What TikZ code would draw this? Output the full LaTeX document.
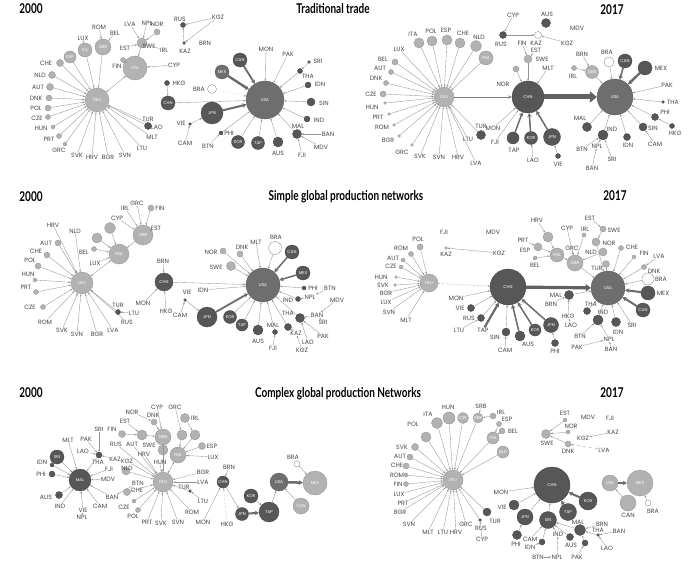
\documentclass[tikz,border=0pt]{standalone}
\usepackage{fontspec}
\usetikzlibrary{arrows.meta}
\newfontfamily\labfam{Poppins}
\newfontfamily\ttlfam[FakeStretch=0.74]{Lato}
\newcommand{\labfont}{\labfam\fontsize{6.2}{7}\selectfont}
\newcommand{\hubfont}{\labfam\fontsize{4.2}{5}\selectfont}
\newcommand{\ttlfont}{\ttlfam\bfseries\fontsize{13.5}{15}\selectfont}
\tikzset{
 lab/.style={font=\labfont, text=black!72, inner sep=0.3pt},
 hubbase/.style={circle, inner sep=0pt, font=\hubfont, text=white, line width=0.3pt},
 hl/.style={hubbase, fill=black!30, draw=black!44, minimum size=#1pt},
 hm/.style={hubbase, fill=black!57, draw=black!66, minimum size=#1pt},
 hd/.style={hubbase, fill=black!66, draw=black!76, minimum size=#1pt},
 hw/.style={hubbase, fill=white, draw=black!50, minimum size=#1pt},
 sl/.style={hl=#1},
 sd/.style={hd=#1},
 ed/.style={draw=black!42, line width=0.35pt, -{Stealth[length=2.4pt,width=1.8pt]}},
 tk/.style={draw=black!58, line width=#1pt, -{Stealth[length=4pt,width=4.5pt]}},
 ttl/.style={font=\ttlfont, text=black, inner sep=0pt},
}
\begin{document}
\begin{tikzpicture}[x=1pt,y=-1pt]
\path[use as bounding box, fill=white] (0,0) rectangle (693,564);
% titles
\node[ttl] (t1) at (31,9) {2000};
\node[ttl] (t2) at (333,9) {Traditional trade};
\node[ttl] (t3) at (612,10) {2017};
\node[ttl] (t4) at (31,197) {2000};
\node[ttl] (t5) at (346,197) {Simple global production networks};
\node[ttl] (t6) at (615,196) {2017};
\node[ttl] (t7) at (31,393) {2000};
\node[ttl] (t8) at (338,394) {Complex global production Networks};
\node[ttl] (t9) at (612,393) {2017};

%%%%%%%%%%%%%%%% Panel A: traditional 2000
\node[hl=24] (aDEU) at (97,100) {DEU};
\node[hl=24] (aFRA) at (135,68) {FRA};
\node[hl=16] (aGBR) at (103,47) {GBR};
\node[hl=14] (aITA) at (85,50) {ITA};
\node[hl=12] (aESP) at (70,57) {ESP};
\node[hl=10] (aSWE) at (142,43) {};
\node[lab] (laSWE) at (149,46) {SWE};
\foreach \n/\x/\y/\sz/\lx/\ly in {CHE/60/63/7/46/63, NLD/52/75/7/40/75, AUT/50/87/7/38/87, DNK/49/98/6/36/98, POL/48/108/6/36/108, CZE/48/117/5/37/118, HUN/53/127/4/41/128, PRT/59/136/5/49/139, GRC/65/144/4/59/150}
 {\node[sl=\sz] (a\n) at (\x,\y) {}; \node[lab] (la\n) at (\lx,\ly) {\n}; \draw[ed] (a\n) -- (aDEU);}
\foreach \n/\x/\y in {SVK/77/155, HRV/92/157, BGR/108/157, SVN/125/155, LTU/142/148, MLT/152/137, LAO/157/127}
 {\node[lab] (a\n) at (\x,\y) {\n}; \draw[ed] (a\n) -- (aDEU);}
\node[sd=7] (aTUR) at (148,126) {};
\node[lab] (laTUR) at (148,119) {TUR};
\draw[ed] (aTUR) -- (aDEU);
\node[lab] (aROM) at (99,27) {ROM};
\node[lab] (aBEL) at (115,33) {BEL};
\node[lab] (aLUX) at (83,38) {LUX};
\node[lab] (aLVA) at (130,24) {LVA};
\node[lab] (aNPL) at (147,23) {NPL};
\node[sl=6] (aNOR) at (157,32) {};
\node[lab] (laNOR) at (157,24) {NOR};
\node[lab] (aEST) at (125,48) {EST};
\node[sl=5] (aFIN) at (123,60) {};
\node[lab] (laFIN) at (117,66) {FIN};
\node[lab] (aIRL) at (164,50) {IRL};
\node[lab] (aCYP) at (174,65) {CYP};
\draw[ed] (aROM) -- (aGBR);
\draw[ed] (aBEL) -- (aGBR);
\draw[ed] (aLUX) -- (aITA);
\foreach \n in {LVA,NPL,NOR,EST,IRL} {\draw[ed] (a\n) -- (aSWE);}
\draw[ed] (aSWE) -- (aFRA);
\draw[ed] (aFIN) -- (aFRA);
\draw[ed] (aCYP) -- (aFRA);
\draw[ed, {Stealth[length=2.4pt,width=1.8pt]}-{Stealth[length=2.4pt,width=1.8pt]}] (aFRA) -- (aDEU);
\foreach \n in {GBR,ITA,ESP} {\draw[ed] (a\n) -- (aDEU);}
% Asia / America A
\node[sd=5] (aRUS) at (183,25) {};
\node[lab] (laRUS) at (180,19) {RUS};
\node[lab] (aKGZ) at (218,17) {KGZ};
\node[sd=3] (aKAZ) at (184,43) {};
\node[lab] (laKAZ) at (185,51) {KAZ};
\node[lab] (aBRN) at (205,43) {BRN};
\draw[ed] (aKGZ) -- (aRUS);
\draw[ed] (aKGZ) -- (aKAZ);
\draw[ed] (aKAZ) -- (aRUS);
\node[sd=5] (aHKG) at (167,83) {};
\node[lab] (laHKG) at (179,83) {HKG};
\node[hd=14] (aCHN) at (168,103) {CHN};
\node[hm=38] (aUSA) at (265,100) {USA};
\node[hd=14] (aCAN) at (240,60) {CAN};
\node[hm=14] (aMEX) at (222,72) {MEX};
\node[hw=9] (aBRA) at (212,89) {};
\node[lab] (laBRA) at (199,89) {BRA};
\draw[ed] (aHKG) -- (aCHN);
\draw[ed] (aCHN) -- (aUSA);
\draw[tk=2.4] (aMEX) -- (aUSA);
\draw[tk=1.8] (aCAN) -- (aUSA);
\draw[ed, dotted] (aBRA) -- (aUSA);
\node[lab] (aMON) at (266,49) {MON};
\node[lab] (aPAK) at (288,54) {PAK};
\node[sd=3] (aSRI) at (309,62) {};
\node[lab] (laSRI) at (318,61) {SRI};
\node[sd=5] (aTHA) at (300,71) {};
\node[lab] (laTHA) at (308,76) {THA};
\node[sd=6] (aIDN) at (308,85) {};
\node[lab] (laIDN) at (320,84) {IDN};
\node[sd=8] (aSIN) at (311,102) {};
\node[lab] (laSIN) at (324,103) {SIN};
\node[sd=6] (aIND) at (307,119) {};
\node[lab] (laIND) at (319,120) {IND};
\node[sd=9] (aMAL) at (297,134) {};
\node[lab] (laMAL) at (298,126) {MAL};
\node[lab] (aBAN) at (328,134) {BAN};
\node[lab] (aMDV) at (321,147) {MDV};
\node[lab] (aFJI) at (302,155) {FJI};
\node[hd=10] (aAUS) at (278,142) {};
\node[lab] (laAUS) at (278,153) {AUS};
\node[hd=13] (aTAP) at (258,143) {TAP};
\node[hd=13] (aKOR) at (238,142) {KOR};
\node[sd=4] (aPHI) at (221,133) {};
\node[lab] (laPHI) at (229,133) {PHI};
\node[lab] (aBTN) at (208,146) {BTN};
\node[hd=22] (aJPN) at (212,113) {JPN};
\node[sd=3] (aVIE) at (190,124) {};
\node[lab] (laVIE) at (181,123) {VIE};
\node[lab] (aCAM) at (185,143) {CAM};
\draw[tk=2] (aJPN) -- (aUSA);
\foreach \n in {MON,PAK,THA,IDN,SIN,IND,MAL,AUS,TAP,KOR,PHI} {\draw[ed] (a\n) -- (aUSA);}
\draw[ed] (aSRI) -- (aTHA);
\foreach \n in {BAN,MDV,FJI} {\draw[ed] (a\n) -- (aMAL);}
\draw[ed] (aBTN) -- (aPHI);
\draw[ed] (aVIE) -- (aJPN);
\draw[ed] (aCAM) -- (aVIE);

%%%%%%%%%%%%%%%% Panel B: traditional 2017
\node[hl=20] (bDEU) at (444,97) {DEU};
\foreach \n/\x/\y/\sz/\lx/\ly in {ITA/419/43/10/413/34, POL/432/41/10/431/31, ESP/447/40/10/446/30, CHE/460/43/10/463/33, NLD/476/46/11/479/37, BEL/395/62/6/383/59, AUT/391/72/5/380/68, DNK/386/83/5/376/78, CZE/383/94/6/371/94, HUN/385/103/3/372/107, PRT/389/114/3/378/117, ROM/394/125/3/382/127, BGR/399/136/3/388/140, GRC/412/145/3/402/152}
 {\node[sl=\sz] (b\n) at (\x,\y) {}; \node[lab] (lb\n) at (\lx,\ly) {\n}; \draw[ed] (b\n) -- (bDEU);}
\foreach \n/\x/\y in {SVK/420/156, SVN/439/157, HRV/458/157, LTU/468/139, LVA/476/163}
 {\node[lab] (b\n) at (\x,\y) {\n}; \draw[ed] (b\n) -- (bDEU);}
\node[lab] (bLUX) at (399,49) {LUX};
\draw[ed] (bLUX) -- (bDEU);
\node[hl=14] (bFRA) at (486,58) {FRA};
\draw[ed] (bFRA) -- (bDEU);
\node[sd=9] (bTUR) at (481,135) {};
\node[lab] (lbTUR) at (481,126) {TUR};
\draw[ed] (bTUR) -- (bDEU);
\node[lab] (bCYP) at (513,15) {CYP};
\node[sd=7] (bRUS) at (503,35) {};
\node[lab] (lbRUS) at (501,44) {RUS};
\node[lab] (bFIN) at (522,43) {FIN};
\node[hw=7] (bKAZ) at (538,35) {};
\node[lab] (lbKAZ) at (536,43) {KAZ};
\node[sd=9] (bAUS) at (546,23) {};
\node[lab] (lbAUS) at (547,14) {AUS};
\node[lab] (bMDV) at (577,28) {MDV};
\node[lab] (bKGZ) at (567,43) {KGZ};
\node[lab] (bEST) at (536,50) {EST};
\node[sl=8] (bSWE) at (528,59) {};
\node[lab] (lbSWE) at (542,59) {SWE};
\node[lab] (bMLT) at (548,68) {MLT};
\node[sl=6] (bNOR) at (516,69) {};
\node[lab] (lbNOR) at (503,84) {NOR};
\node[hd=32] (bCHN) at (528,97) {CHN};
\node[hm=36] (bUSA) at (615,97) {USA};
\draw[ed] (bCYP) -- (bRUS);
\draw[ed] (bRUS) -- (bKAZ);
\draw[ed] (bKGZ) -- (bKAZ);
\draw[ed] (bFIN) -- (bSWE);
\draw[ed] (bEST) -- (bSWE);
\draw[ed] (bSWE) -- (bCHN);
\draw[ed] (bNOR) -- (bCHN);
\draw[ed] (bMLT) -- (bCHN);
\draw[draw=black!50, line width=0.8pt, -{Stealth[length=4pt,width=3.5pt]}] (bDEU) -- (bCHN);
\draw[draw=black!62, line width=5pt, -{Triangle[length=7pt,width=11pt]}] (bCHN) -- (bUSA);
\node[hl=13] (bGBR) at (592,72) {GBR};
\node[sl=5] (bIRL) at (574,68) {};
\node[lab] (lbIRL) at (573,76) {IRL};
\node[lab] (bBRN) at (582,54) {BRN};
\draw[ed] (bIRL) -- (bGBR);
\draw[ed] (bBRN) -- (bGBR);
\draw[ed] (bGBR) -- (bUSA);
\node[hw=10] (bBRA) at (609,62) {};
\node[lab] (lbBRA) at (607,52) {BRA};
\node[hd=14] (bCAN) at (625,61) {CAN};
\node[hd=14] (bMEX) at (645,68) {};
\node[lab] (lbMEX) at (661,68) {MEX};
\draw[ed] (bBRA) -- (bUSA);
\draw[tk=1.6] (bCAN) -- (bUSA);
\draw[tk=2.4] (bMEX) -- (bUSA);
\node[lab] (bPAK) at (667,85) {PAK};
\node[sd=3] (bTHA) at (663,102) {};
\node[lab] (lbTHA) at (673,102) {THA};
\node[sd=7] (bPHI) at (655,117) {};
\node[lab] (lbPHI) at (665,112) {PHI};
\node[sd=5] (bHKG) at (672,126) {};
\node[lab] (lbHKG) at (675,133) {HKG};
\node[sd=8] (bSIN) at (643,127) {};
\node[lab] (lbSIN) at (653,128) {SIN};
\node[lab] (bCAM) at (655,144) {CAM};
\node[sd=7] (bIDN) at (627,137) {};
\node[lab] (lbIDN) at (628,145) {IDN};
\node[sd=10] (bIND) at (603,135) {};
\node[lab] (lbIND) at (612,129) {IND};
\node[sd=9] (bMAL) at (587,127) {};
\node[lab] (lbMAL) at (580,118) {MAL};
\node[lab] (bBTN) at (582,149) {BTN};
\node[lab] (bNPL) at (597,146) {NPL};
\node[lab] (bSRI) at (612,159) {SRI};
\node[lab] (bBAN) at (592,168) {BAN};
\foreach \n in {PAK,THA,PHI,SIN,IDN,IND,MAL} {\draw[ed] (b\n) -- (bUSA);}
\draw[ed] (bHKG) -- (bPHI);
\draw[ed] (bCAM) -- (bSIN);
\foreach \n in {BTN,NPL,SRI} {\draw[ed] (b\n) -- (bIND);}
\draw[ed] (bBAN) -- (bNPL);
\node[lab] (bMON) at (493,128) {MON};
\node[lab] (bFJI) at (495,142) {FJI};
\node[hd=12] (bTAP) at (513,138) {};
\node[lab] (lbTAP) at (514,150) {TAP};
\node[hd=13] (bKOR) at (531,138) {KOR};
\node[hd=17] (bJPN) at (552,137) {JPN};
\node[lab] (bLAO) at (533,160) {LAO};
\node[sd=5] (bVIE) at (558,156) {};
\node[lab] (lbVIE) at (558,164) {VIE};
\draw[ed] (bMON) -- (bCHN);
\draw[ed] (bFJI) -- (bCHN);
\foreach \n in {TAP,KOR,JPN} {\draw[tk=1.5] (b\n) -- (bCHN);}
\draw[ed] (bLAO) -- (bKOR);
\draw[ed] (bVIE) -- (bJPN);

%%%%%%%%%%%%%%%% Panel C: simple 2000
\node[hl=22] (cDEU) at (82,283) {DEU};
\node[hl=20] (cFRA) at (119,254) {FRA};
\node[hl=20] (cGBR) at (143,235) {GBR};
\node[hl=11] (cITA) at (110,228) {};
\node[hl=10] (cESP) at (97,238) {};
\foreach \n/\x/\y/\sz/\lx/\ly in {AUT/58/243/6/46/243, CHE/47/255/6/36/251, POL/38/266/6/30/260, HUN/35/280/4/28/274, PRT/36/292/5/26/287, CZE/43/307/5/30/307}
 {\node[sl=\sz] (c\n) at (\x,\y) {}; \node[lab] (lc\n) at (\lx,\ly) {\n}; \draw[ed] (c\n) -- (cDEU);}
\foreach \n/\x/\y in {HRV/53/225, NLD/75/231, ROM/45/322, SVK/62/330, SVN/77/334, BGR/97/334, LVA/113/330, RUS/127/322}
 {\node[lab] (c\n) at (\x,\y) {\n}; \draw[ed] (c\n) -- (cDEU);}
\node[sd=5] (cTUR) at (118,312) {};
\node[lab] (lcTUR) at (118,305) {TUR};
\draw[ed] (cTUR) -- (cDEU);
\node[lab] (cLTU) at (134,313) {LTU};
\draw[ed] (cLTU) -- (cTUR);
\node[sl=5] (cBEL) at (94,249) {};
\node[lab] (lcBEL) at (84,252) {BEL};
\node[lab] (cLUX) at (95,263) {LUX};
\draw[ed] (cBEL) -- (cFRA);
\draw[ed] (cLUX) -- (cFRA);
\draw[ed] (cITA) -- (cFRA);
\draw[ed] (cESP) -- (cFRA);
\draw[ed, {Stealth[length=2.4pt,width=1.8pt]}-{Stealth[length=2.4pt,width=1.8pt]}] (cFRA) -- (cDEU);
\draw[ed] (cGBR) -- (cFRA);
\node[lab] (cIRL) at (125,208) {IRL};
\node[lab] (cGRC) at (137,203) {GRC};
\node[lab] (cCYP) at (117,218) {CYP};
\node[lab] (cEST) at (156,228) {EST};
\node[sl=6] (cFIN) at (151,208) {};
\node[lab] (lcFIN) at (160,208) {FIN};
\foreach \n in {IRL,GRC,CYP,EST,FIN} {\draw[ed] (c\n) -- (cGBR);}
\node[hd=18] (cCHN) at (164,282) {CHN};
\node[lab] (cBRN) at (163,261) {BRN};
\node[lab] (cMON) at (143,303) {MON};
\node[lab] (cHKG) at (166,311) {HKG};
\draw[ed] (cBRN) -- (cCHN);
\draw[ed] (cMON) -- (cCHN);
\draw[ed] (cHKG) -- (cCHN);
\node[hm=34] (cUSA) at (263,285) {USA};
\draw[ed] (cCHN) -- (cUSA);
\node[sl=6] (cNOR) at (223,251) {};
\node[lab] (lcNOR) at (211,252) {NOR};
\node[sl=6] (cDNK) at (240,254) {};
\node[lab] (lcDNK) at (242,247) {DNK};
\node[sl=9] (cSWE) at (231,266) {};
\node[lab] (lcSWE) at (216,267) {SWE};
\node[lab] (cMLT) at (256,242) {MLT};
\node[hw=13] (cBRA) at (275,248) {};
\node[lab] (lcBRA) at (276,237) {BRA};
\node[hd=14] (cCAN) at (292,252) {CAN};
\node[hd=14] (cMEX) at (303,273) {MEX};
\foreach \n in {NOR,DNK,SWE,MLT,BRA} {\draw[ed] (c\n) -- (cUSA);}
\draw[tk=1.5] (cCAN) -- (cUSA);
\draw[tk=1.5] (cMEX) -- (cUSA);
\node[sd=4] (cPHI) at (304,288) {};
\node[lab] (lcPHI) at (313,288) {PHI};
\node[lab] (cBTN) at (330,288) {BTN};
\node[lab] (cNPL) at (310,297) {NPL};
\node[lab] (cMDV) at (337,300) {MDV};
\node[sd=5] (cIND) at (298,299) {};
\node[lab] (lcIND) at (288,300) {IND};
\node[lab] (cBAN) at (317,315) {BAN};
\node[lab] (cSRI) at (323,322) {SRI};
\node[lab] (cPAK) at (323,336) {PAK};
\node[lab] (cLAO) at (308,342) {LAO};
\node[lab] (cKAZ) at (296,333) {KAZ};
\node[lab] (cKGZ) at (302,350) {KGZ};
\node[sd=9] (cTHA) at (300,318) {};
\node[lab] (lcTHA) at (288,313) {THA};
\node[sd=7] (cSIN) at (288,327) {};
\node[sd=5] (cMAL) at (275,332) {};
\node[lab] (lcMAL) at (273,325) {MAL};
\node[lab] (cFJI) at (273,348) {FJI};
\node[hd=10] (cAUS) at (258,330) {};
\node[lab] (lcAUS) at (258,341) {AUS};
\node[hd=12] (cTAP) at (242,325) {TAP};
\node[hd=13] (cKOR) at (230,317) {KOR};
\node[hd=20] (cJPN) at (207,317) {JPN};
\node[lab] (cIDN) at (203,290) {IDN};
\node[sd=3] (cVIE) at (185,300) {};
\node[lab] (lcVIE) at (187,292) {VIE};
\node[lab] (cCAM) at (180,315) {CAM};
\foreach \n in {PHI,IND,THA,SIN,MAL,AUS,TAP,KOR,IDN} {\draw[ed] (c\n) -- (cUSA);}
\draw[tk=1.8] (cJPN) -- (cUSA);
\draw[ed] (cBTN) -- (cNPL);
\draw[ed] (cNPL) -- (cIND);
\draw[ed] (cMDV) -- (cBAN);
\draw[ed] (cBAN) -- (cTHA);
\draw[ed] (cSRI) -- (cBAN);
\draw[ed] (cPAK) -- (cTHA);
\draw[ed] (cLAO) -- (cTHA);
\draw[ed] (cKAZ) -- (cSIN);
\draw[ed] (cKGZ) -- (cKAZ);
\draw[ed] (cFJI) -- (cMAL);
\draw[ed] (cVIE) -- (cJPN);
\draw[ed] (cCAM) -- (cVIE);

%%%%%%%%%%%%%%%% Panel D: simple 2017
\node[lab] (dFJI) at (444,232) {FJI};
\node[lab] (dMDV) at (493,232) {MDV};
\node[sl=3] (dKAZ) at (446,248) {};
\node[lab] (ldKAZ) at (446,254) {KAZ};
\node[lab] (dKGZ) at (499,253) {KGZ};
\draw[ed] (dKGZ) -- (dKAZ);
\node[hl=18] (dDEU) at (429,283) {DEU};
\foreach \n/\x/\y/\sz/\lx/\ly in {POL/420/247/6/418/239, ROM/411/254/5/401/248, AUT/403/260/4/393/258, CZE/401/267/4/391/266, HUN/396/277/3/381/277, SVK/395/285/3/383/285}
 {\node[sl=\sz] (d\n) at (\x,\y) {}; \node[lab] (ld\n) at (\lx,\ly) {\n}; \draw[ed] (d\n) -- (dDEU);}
\foreach \n/\x/\y in {BGR/386/293, LUX/386/302, SVN/389/312, MLT/406/320}
 {\node[lab] (d\n) at (\x,\y) {\n}; \draw[ed] (d\n) -- (dDEU);}
\node[hd=36] (dCHN) at (508,287) {CHN};
\draw[ed, densely dotted, line width=0.6pt] (dDEU) -- (dCHN);
\node[lab] (dMON) at (456,298) {MON};
\node[sd=7] (dVIE) at (471,308) {};
\node[lab] (ldVIE) at (460,308) {VIE};
\node[sd=7] (dRUS) at (481,318) {};
\node[lab] (ldRUS) at (469,318) {RUS};
\node[lab] (dLTU) at (459,330) {LTU};
\node[lab] (dTAP) at (483,330) {TAP};
\node[sd=8] (dSIN) at (506,332) {};
\node[lab] (ldSIN) at (495,337) {SIN};
\node[lab] (dCAM) at (505,350) {CAM};
\node[hd=10] (dAUS) at (520,336) {};
\node[lab] (ldAUS) at (528,344) {AUS};
\node[hd=12] (dKOR) at (535,330) {KOR};
\node[hd=15] (dJPN) at (551,325) {JPN};
\node[sd=7] (dPHI) at (555,343) {};
\node[lab] (ldPHI) at (555,351) {PHI};
\foreach \n in {MON,VIE,RUS,SIN} {\draw[ed] (d\n) -- (dCHN);}
\draw[ed] (dLTU) -- (dRUS);
\draw[tk=2.2] (dTAP) -- (dCHN);
\draw[ed] (dCAM) -- (dSIN);
\draw[tk=1.5] (dAUS) -- (dCHN);
\draw[tk=1.5] (dKOR) -- (dCHN);
\draw[tk=1.5] (dJPN) -- (dCHN);
\draw[ed] (dPHI) -- (dJPN);
\node[hm=34] (dUSA) at (608,288) {USA};
\draw[draw=black!62, line width=3.2pt, -{Triangle[length=5pt,width=7pt]}] (dCHN) -- (dUSA);
\node[sd=9] (dMAL) at (569,295) {};
\node[lab] (ldMAL) at (556,295) {MAL};
\node[lab] (dBRN) at (551,304) {BRN};
\node[lab] (dHKG) at (568,316) {HKG};
\node[lab] (dLAO) at (571,325) {LAO};
\node[sd=7] (dTHA) at (587,311) {};
\node[lab] (ldTHA) at (591,304) {THA};
\node[sd=10] (dIND) at (598,320) {};
\node[lab] (ldIND) at (603,312) {IND};
\node[lab] (dBTN) at (580,336) {BTN};
\node[lab] (dNPL) at (609,339) {NPL};
\node[lab] (dPAK) at (577,347) {PAK};
\node[lab] (dBAN) at (611,349) {BAN};
\node[sd=9] (dIDN) at (616,322) {};
\node[lab] (ldIDN) at (618,332) {IDN};
\node[lab] (dSRI) at (632,325) {SRI};
\node[hd=14] (dCAN) at (643,310) {CAN};
\node[hd=14] (dMEX) at (648,293) {};
\node[lab] (ldMEX) at (663,293) {MEX};
\node[hw=12] (dBRA) at (648,279) {};
\node[lab] (ldBRA) at (661,279) {BRA};
\node[sl=5] (dDNK) at (644,267) {};
\node[lab] (ldDNK) at (654,271) {DNK};
\node[lab] (dLVA) at (659,256) {LVA};
\node[sl=4] (dFIN) at (634,257) {};
\node[lab] (ldFIN) at (644,253) {FIN};
\node[sl=5] (dCHE) at (621,248) {};
\node[lab] (ldCHE) at (632,247) {CHE};
\node[sl=8] (dNOR) at (596,242) {};
\node[lab] (ldNOR) at (609,243) {NOR};
\node[sl=6] (dSWE) at (603,229) {};
\node[lab] (ldSWE) at (614,230) {SWE};
\node[lab] (dEST) at (590,218) {EST};
\foreach \n in {MAL,THA,IND,IDN,SRI,BRA,DNK,FIN,CHE,NOR} {\draw[ed] (d\n) -- (dUSA);}
\draw[tk=2] (dCAN) -- (dUSA);
\draw[tk=2] (dMEX) -- (dUSA);
\draw[ed] (dBRN) -- (dMAL);
\draw[ed] (dHKG) -- (dMAL);
\draw[ed] (dLAO) -- (dHKG);
\draw[ed] (dBTN) -- (dIND);
\draw[ed] (dNPL) -- (dIND);
\draw[ed] (dPAK) -- (dNPL);
\draw[ed] (dBAN) -- (dNPL);
\draw[ed] (dLVA) -- (dDNK);
\draw[ed] (dSWE) -- (dNOR);
\draw[ed] (dEST) -- (dSWE);
\node[hl=16] (dGBR) at (575,263) {GBR};
\node[sl=7] (dTUR) at (606,264) {};
\node[lab] (ldTUR) at (597,268) {TUR};
\node[sl=8] (dNLD) at (603,252) {};
\node[lab] (ldNLD) at (591,252) {NLD};
\node[sl=4] (dIRL) at (584,235) {};
\node[lab] (ldIRL) at (585,229) {IRL};
\node[lab] (dCYP) at (567,228) {CYP};
\node[lab] (dGRC) at (572,248) {GRC};
\node[hl=14] (dFRA) at (557,255) {FRA};
\node[hl=10] (dITA) at (548,237) {};
\node[lab] (dHRV) at (537,220) {HRV};
\node[sl=8] (dESP) at (538,247) {};
\node[lab] (ldESP) at (525,250) {ESP};
\node[lab] (dPRT) at (523,240) {PRT};
\node[sl=4] (dBEL) at (535,258) {};
\node[lab] (ldBEL) at (535,265) {BEL};
\draw[ed] (dGBR) -- (dUSA);
\draw[ed] (dTUR) -- (dUSA);
\foreach \n in {NLD,IRL,CYP,GRC,FRA} {\draw[ed] (d\n) -- (dGBR);}
\draw[ed] (dITA) -- (dFRA);
\draw[ed] (dHRV) -- (dITA);
\draw[ed] (dESP) -- (dFRA);
\draw[ed] (dPRT) -- (dESP);
\draw[ed] (dBEL) -- (dFRA);

%%%%%%%%%%%%%%%% Panel E: complex 2000
\node[hd=22] (eMAL) at (80,480) {MAL};
\node[hd=14] (eSIN) at (57,457) {SIN};
\node[sd=6] (eTHA) at (99,455) {};
\node[lab] (leTHA) at (98,462) {THA};
\node[sd=4] (eIDN) at (52,465) {};
\node[lab] (leIDN) at (42,462) {IDN};
\node[sd=6] (ePHI) at (52,474) {};
\node[lab] (lePHI) at (41,474) {PHI};
\node[sd=7] (eAUS) at (59,495) {};
\node[lab] (leAUS) at (46,497) {AUS};
\foreach \n in {SIN,THA,IDN,PHI,AUS} {\draw[ed] (e\n) -- (eMAL);}
\foreach \n/\x/\y in {MLT/68/440, IND/60/506, VIE/83/510, CAM/100/506, BAN/112/497, MDV/108/479, FJI/109/469}
 {\node[lab] (e\n) at (\x,\y) {\n}; \draw[ed] (e\n) -- (eMAL);}
\node[lab] (eNPL) at (82,517) {NPL};
\draw[ed] (eNPL) -- (eVIE);
\node[lab] (eSRI) at (99,429) {SRI};
\node[lab] (ePAK) at (86,439) {PAK};
\node[lab] (eLAO) at (83,451) {LAO};
\node[lab] (eKAZ) at (115,459) {KAZ};
\node[lab] (eKGZ) at (127,461) {KGZ};
\node[lab] (eRUS) at (116,444) {RUS};
\node[lab] (eBTN) at (138,483) {BTN};
\foreach \n in {SRI,PAK,LAO,KAZ} {\draw[ed] (e\n) -- (eTHA);}
\draw[ed] (eBTN) -- (eBAN);
\node[hl=20] (eDEU) at (163,482) {DEU};
\draw[ed] (eKGZ) -- (eDEU);
\draw[ed] (eRUS) -- (eDEU);
\node[sl=7] (eFIN) at (122,434) {};
\node[lab] (leFIN) at (112,429) {FIN};
\node[lab] (eEST) at (125,421) {EST};
\node[lab] (eNOR) at (132,412) {NOR};
\node[lab] (eCYP) at (157,407) {CYP};
\node[sl=6] (eDNK) at (154,422) {};
\node[lab] (leDNK) at (153,415) {DNK};
\node[hl=10] (eSWE) at (142,435) {};
\node[lab] (leSWE) at (149,445) {SWE};
\node[hl=16] (eGBR) at (163,437) {GBR};
\node[hl=10] (eITA) at (163,450) {};
\draw[ed] (eFIN) -- (eSWE);
\draw[ed] (eEST) -- (eSWE);
\draw[ed] (eNOR) -- (eDNK);
\draw[ed] (eDNK) -- (eGBR);
\draw[ed] (eCYP) -- (eGBR);
\draw[ed] (eSWE) -- (eGBR);
\draw[ed] (eGBR) -- (eDEU);
\draw[ed] (eITA) -- (eDEU);
\foreach \n/\x/\y in {AUT/132/444, HRV/144/454, HUN/160/462, PRT/147/522, SVK/161/523}
 {\node[lab] (e\n) at (\x,\y) {\n}; \draw[ed] (e\n) -- (eDEU);}
\node[sl=8] (eNLD) at (126,471) {};
\node[lab] (leNLD) at (127,468) {NLD};
\node[sl=7] (eCHE) at (127,492) {};
\node[lab] (leCHE) at (137,490) {CHE};
\node[sl=4] (eCZE) at (134,501) {};
\node[lab] (leCZE) at (124,507) {CZE};
\node[sl=5] (ePOL) at (138,510) {};
\node[lab] (lePOL) at (133,516) {POL};
\foreach \n in {NLD,CHE,CZE,POL} {\draw[ed] (e\n) -- (eDEU);}
\node[lab] (eGRC) at (175,407) {GRC};
\node[sl=9] (eIRL) at (185,418) {};
\node[lab] (leIRL) at (195,418) {IRL};
\node[sl=10] (eXA) at (182,435) {};
\node[sl=10] (eXB) at (195,435) {};
\node[sl=7] (eESP) at (202,446) {};
\node[lab] (leESP) at (212,446) {ESP};
\node[hl=16] (eFRA) at (178,455) {FRA};
\node[lab] (eLUX) at (213,457) {LUX};
\draw[ed] (eGRC) -- (eXA);
\draw[ed] (eIRL) -- (eXB);
\foreach \n in {XA,XB,ESP,LUX} {\draw[ed] (e\n) -- (eFRA);}
\draw[ed, {Stealth[length=2.4pt,width=1.8pt]}-{Stealth[length=2.4pt,width=1.8pt]}] (eFRA) -- (eDEU);
\node[sd=3] (eTUR) at (190,491) {};
\node[lab] (leTUR) at (184,487) {TUR};
\node[lab] (eLTU) at (203,501) {LTU};
\draw[ed] (eLTU) -- (eTUR);
\draw[ed] (eTUR) -- (eDEU);
\foreach \n/\x/\y in {BGR/203/472, LVA/203/482, ROM/192/512, SVN/178/522}
 {\node[lab] (e\n) at (\x,\y) {\n}; \draw[ed] (e\n) -- (eDEU);}
\node[hd=12] (eCHN) at (223,482) {CHN};
\node[lab] (eBRN) at (229,467) {BRN};
\node[lab] (eMON) at (203,522) {MON};
\node[lab] (eHKG) at (227,524) {HKG};
\node[hd=13] (eJPN) at (242,514) {JPN};
\node[hd=14] (eKOR) at (251,496) {KOR};
\node[hd=20] (eTAP) at (269,512) {TAP};
\node[hm=18] (eUSA) at (279,482) {USA};
\node[hl=24] (eMEX) at (315,483) {MEX};
\node[hl=16] (eCAN) at (301,506) {CAN};
\node[hw=6] (eBRA) at (297,464) {};
\node[lab] (leBRA) at (293,457) {BRA};
\draw[ed] (eBRN) -- (eCHN);
\draw[ed] (eMON) -- (eCHN);
\draw[ed, densely dotted] (eHKG) -- (eCHN);
\draw[ed] (eCHN) -- (eJPN);
\draw[tk=2] (eJPN) -- (eTAP);
\draw[ed] (eKOR) -- (eTAP);
\draw[ed] (eTAP) -- (eUSA);
\draw[tk=2.5] (eUSA) -- (eMEX);
\draw[ed] (eCAN) -- (eUSA);
\draw[ed] (eBRA) -- (eMEX);

%%%%%%%%%%%%%%%% Panel F: complex 2017
\node[hl=20] (fDEU) at (453,480) {DEU};
\node[hl=10] (fPOL) at (426,437) {};
\node[lab] (lfPOL) at (413,424) {POL};
\node[hl=11] (fITA) at (437,423) {};
\node[lab] (lfITA) at (428,414) {ITA};
\node[hl=12] (fHUN) at (449,418) {};
\node[lab] (lfHUN) at (448,407) {HUN};
\node[hl=11] (fCZE) at (463,418) {CZE};
\node[hl=10] (fGBR) at (478,418) {GBR};
\node[hl=12] (fFRA) at (493,438) {FRA};
\node[hl=12] (fNLD) at (503,452) {NLD};
\node[lab] (fSRB) at (481,406) {SRB};
\node[sl=6] (fIRL) at (493,416) {};
\node[lab] (lfIRL) at (501,412) {IRL};
\node[sl=5] (fESP) at (499,424) {};
\node[lab] (lfESP) at (507,419) {ESP};
\node[sl=6] (fBEL) at (502,431) {};
\node[lab] (lfBEL) at (513,431) {BEL};
\foreach \n in {POL,ITA,HUN,CZE,GBR,FRA,NLD} {\draw[ed] (f\n) -- (fDEU);}
\draw[ed] (fSRB) -- (fGBR);
\draw[ed] (fIRL) -- (fGBR);
\draw[ed] (fESP) -- (fFRA);
\draw[ed] (fBEL) -- (fFRA);
\foreach \n/\x/\y/\sz/\lx/\ly in {SVK/415/447/7/402/447, AUT/410/457/6/400/456, CHE/406/466/6/397/465, ROM/406/475/4/397/475, FIN/406/484/5/398/484}
 {\node[sl=\sz] (f\n) at (\x,\y) {}; \node[lab] (lf\n) at (\lx,\ly) {\n}; \draw[ed] (f\n) -- (fDEU);}
\foreach \n/\x/\y in {LUX/399/494, PRT/403/503, BGR/400/512, SVN/409/524, MLT/428/532, LTU/443/532, HRV/456/532, GRC/466/524}
 {\node[lab] (f\n) at (\x,\y) {\n}; \draw[ed] (f\n) -- (fDEU);}
\node[sd=3] (fRUS) at (480,520) {};
\node[lab] (lfRUS) at (481,528) {RUS};
\node[lab] (fCYP) at (482,539) {CYP};
\node[sd=8] (fTUR) at (487,512) {};
\node[lab] (lfTUR) at (495,521) {TUR};
\draw[ed] (fRUS) -- (fDEU);
\draw[ed] (fCYP) -- (fRUS);
\draw[ed] (fTUR) -- (fDEU);
\node[hd=36] (fCHN) at (552,485) {CHN};
\node[lab] (fMON) at (501,492) {MON};
\node[sd=10] (fVIE) at (514,505) {};
\node[lab] (lfVIE) at (502,507) {VIE};
\node[hd=18] (fKOR) at (588,501) {KOR};
\node[hd=17] (fTAP) at (568,512) {TAP};
\node[hd=17] (fSIN) at (548,520) {SIN};
\node[hd=16] (fJPN) at (525,517) {JPN};
\node[sd=9] (fPHI) at (517,535) {};
\node[lab] (lfPHI) at (516,544) {PHI};
\draw[ed] (fMON) -- (fCHN);
\draw[ed] (fVIE) -- (fCHN);
\draw[tk=2] (fKOR) -- (fCHN);
\draw[tk=2] (fTAP) -- (fCHN);
\draw[ed] (fSIN) -- (fCHN);
\draw[ed] (fJPN) -- (fCHN);
\draw[ed] (fPHI) -- (fJPN);
\node[sl=4] (fEST) at (565,420) {};
\node[lab] (lfEST) at (565,413) {EST};
\node[lab] (fMDV) at (588,417) {MDV};
\node[lab] (fFJI) at (610,418) {FJI};
\node[sl=4] (fNOR) at (568,432) {};
\node[lab] (lfNOR) at (571,426) {NOR};
\node[lab] (fKGZ) at (583,438) {KGZ};
\node[lab] (fKAZ) at (613,432) {KAZ};
\node[sl=9] (fSWE) at (546,434) {};
\node[lab] (lfSWE) at (547,443) {SWE};
\node[sl=6] (fDNK) at (568,444) {};
\node[lab] (lfDNK) at (568,451) {DNK};
\node[lab] (fLVA) at (604,450) {LVA};
\draw[ed] (fEST) -- (fSWE);
\draw[ed] (fNOR) -- (fSWE);
\draw[ed] (fDNK) -- (fSWE);
\draw[ed, dashed] (fLVA) -- (fDNK);
\draw[ed] (fKAZ) -- (fKGZ);
\node[hl=16] (fUSA) at (610,483) {USA};
\node[hl=26] (fMEX) at (640,483) {MEX};
\node[hl=16] (fCAN) at (628,503) {};
\node[lab] (lfCAN) at (628,515) {CAN};
\node[hw=6] (fBRA) at (648,503) {};
\node[lab] (lfBRA) at (653,511) {BRA};
\draw[tk=2.5] (fUSA) -- (fMEX);
\draw[ed] (fCAN) -- (fUSA);
\draw[ed] (fBRA) -- (fMEX);
\node[sd=11] (fMAL) at (580,530) {};
\node[lab] (lfMAL) at (578,522) {MAL};
\node[lab] (fBRN) at (602,524) {BRN};
\node[sd=3] (fTHA) at (598,535) {};
\node[lab] (lfTHA) at (598,530) {THA};
\node[lab] (fBAN) at (619,531) {BAN};
\node[lab] (fLAO) at (607,548) {LAO};
\node[sd=6] (fPK) at (585,543) {};
\node[lab] (fPAK) at (577,557) {PAK};
\node[lab] (fNPL) at (557,557) {NPL};
\node[lab] (fBTN) at (538,557) {BTN};
\node[lab] (fIDN) at (530,547) {IDN};
\node[lab] (fCAM) at (530,539) {CAM};
\node[sd=6] (fXI) at (542,542) {};
\node[lab] (fIND) at (558,534) {IND};
\node[sd=7] (fAUS) at (570,537) {};
\node[lab] (lfAUS) at (571,545) {AUS};
\draw[ed] (fMAL) -- (fSIN);
\draw[ed] (fBRN) -- (fMAL);
\draw[ed] (fTHA) -- (fMAL);
\draw[ed] (fBAN) -- (fTHA);
\draw[ed] (fLAO) -- (fTHA);
\draw[ed] (fPAK) -- (fPK);
\draw[ed] (fPK) -- (fMAL);
\draw[ed] (fBTN) -- (fNPL);
\draw[ed] (fNPL) -- (fIND);
\draw[ed] (fIND) -- (fSIN);
\draw[ed] (fIDN) -- (fXI);
\draw[ed] (fXI) -- (fSIN);
\draw[ed] (fCAM) -- (fSIN);
\draw[ed] (fAUS) -- (fSIN);
\end{tikzpicture}
\end{document}
